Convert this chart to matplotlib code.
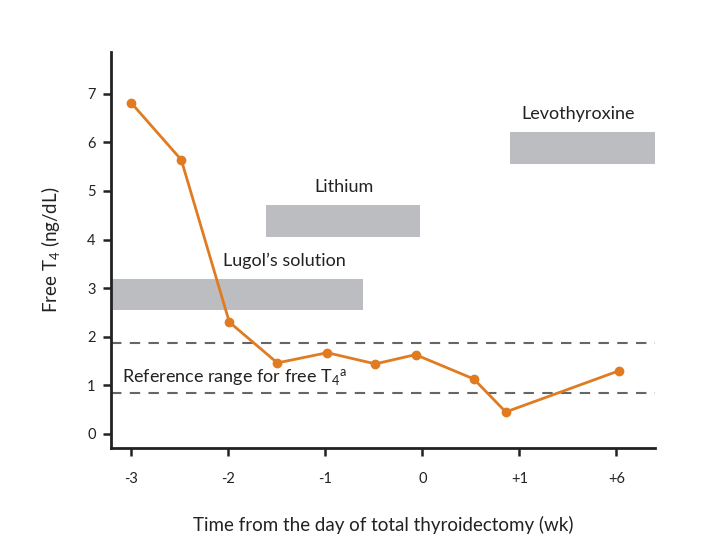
import matplotlib
matplotlib.use("Agg")
import matplotlib.pyplot as plt

plt.rcParams['font.family'] = ['Lato', 'DejaVu Sans']
plt.rcParams['mathtext.fontset'] = 'custom'
plt.rcParams['mathtext.rm'] = 'Lato'
plt.rcParams['mathtext.it'] = 'Lato'

# x ticks are evenly spaced categories (scale breaks after +1)
tick_labels = ['-3', '-2', '-1', '0', '+1', '+6']
tick_pos = [0, 1, 2, 3, 4, 5]

# free T4 measurements (x in tick-index units)
t4_x = [0.0, 0.515, 1.01, 1.505, 2.02, 2.515, 2.93, 3.53, 3.86, 5.03]
t4_y = [6.81, 5.64, 2.30, 1.46, 1.67, 1.44, 1.63, 1.13, 0.45, 1.30]

# treatment periods: (name, x start, x end, y low, y high)
drugs = ['Lugol\u2019s solution', 'Lithium', 'Levothyroxine']
drug_start = [-0.21, 1.39, 3.90]
drug_end = [2.39, 2.98, 5.40]
drug_low = [2.54, 4.05, 5.56]
drug_high = [3.19, 4.71, 6.21]
label_x = [1.58, 2.19, 4.61]

ref_low = 0.84
ref_high = 1.87

orange = '#e07b22'
grey = '#bcbdc0'
txt = '#222222'

fig = plt.figure(figsize=(7.16, 5.53), dpi=100)
ax = fig.add_axes([0.155, 0.19, 0.76, 0.716])

for name, x0, x1, lo, hi, lx in zip(drugs, drug_start, drug_end, drug_low, drug_high, label_x):
    ax.fill_between([x0, x1], lo, hi, color=grey, lw=0, zorder=1)
    ax.text(lx, hi + 0.2, name, ha='center', va='bottom', fontsize=13, color=txt)

for y in (ref_low, ref_high):
    ax.axhline(y, color='#666666', lw=1.5, ls=(0, (5, 4)), zorder=2)
ax.text(-0.1, ref_low + 0.1, 'Reference range for free T$_4$$^a$',
        ha='left', va='bottom', fontsize=13, color=txt)

ax.plot(t4_x, t4_y, color=orange, lw=2, marker='o', ms=6, zorder=3)

ax.set_xlim(-0.21, 5.40)
ax.set_ylim(-0.29, 7.86)
ax.set_xticks(tick_pos)
ax.set_xticklabels(tick_labels)
ax.set_yticks(range(8))
ax.tick_params(axis='both', direction='out', length=6, width=1.8, labelsize=10.5, colors=txt)
ax.tick_params(axis='x', pad=11)
ax.tick_params(axis='y', pad=5)

for s in ['top', 'right']:
    ax.spines[s].set_visible(False)
for s in ['left', 'bottom']:
    ax.spines[s].set_linewidth(2)
    ax.spines[s].set_color(txt)

ax.set_xlabel('Time from the day of total thyroidectomy (wk)', fontsize=13.5, labelpad=22, color=txt)
ax.set_ylabel('Free T$_4$ (ng/dL)', fontsize=13.5, labelpad=18, color=txt)

fig.savefig('out.png', dpi=100)
